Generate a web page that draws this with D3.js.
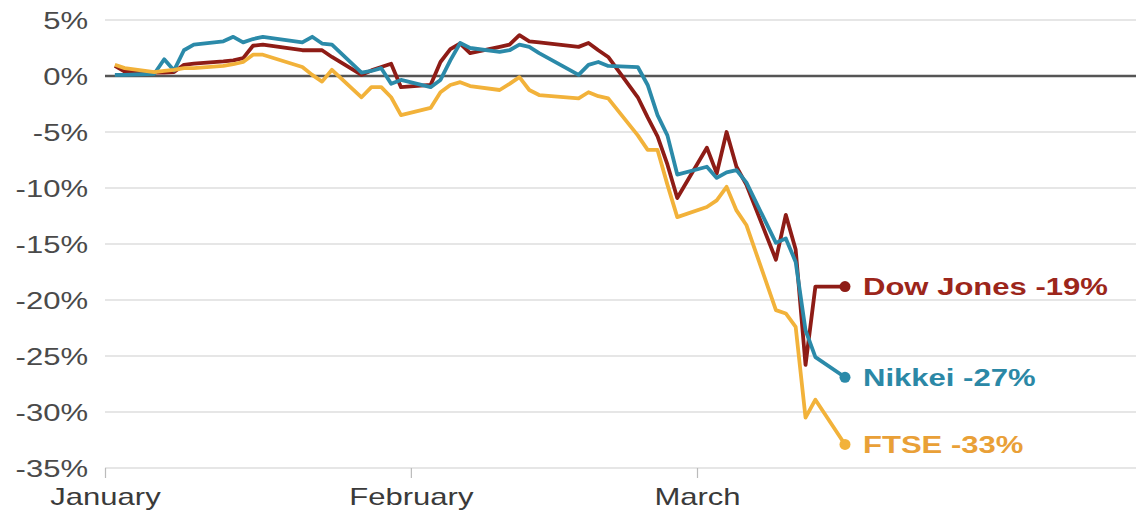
<!DOCTYPE html>
<html>
<head>
<meta charset="utf-8">
<script src="https://cdn.jsdelivr.net/npm/d3@7"></script>
<style>
  body { margin: 0; background: #fff; }
  svg { display: block; font-family: "Liberation Sans", Arial, sans-serif; }
</style>
</head>
<body>
<svg id="chart" width="1136" height="511"></svg>
<script>
// trading days, Jan 2 - Mar 16 2020
const dates = [
  "2020-01-02","2020-01-03","2020-01-06","2020-01-07","2020-01-08","2020-01-09","2020-01-10",
  "2020-01-13","2020-01-14","2020-01-15","2020-01-16","2020-01-17",
  "2020-01-21","2020-01-22","2020-01-23","2020-01-24",
  "2020-01-27","2020-01-28","2020-01-29","2020-01-30","2020-01-31",
  "2020-02-03","2020-02-04","2020-02-05","2020-02-06","2020-02-07",
  "2020-02-10","2020-02-11","2020-02-12","2020-02-13","2020-02-14",
  "2020-02-18","2020-02-19","2020-02-20","2020-02-21",
  "2020-02-24","2020-02-25","2020-02-26","2020-02-27","2020-02-28",
  "2020-03-02","2020-03-03","2020-03-04","2020-03-05","2020-03-06",
  "2020-03-09","2020-03-10","2020-03-11","2020-03-12","2020-03-13",
  "2020-03-16"
];

// % change since start of year
const dow = [
  0.9, 0.4, 0.3, 0.3, 0.35, 1.0, 1.1,
  1.3, 1.4, 1.6, 2.7, 2.8,
  2.3, 2.3, 2.3, 1.7,
  0.1, 0.5, 0.8, 1.1, -1.0,
  -0.8, 1.25, 2.4, 2.9, 2.05,
  2.6, 2.8, 3.65, 3.1, 3.0,
  2.6, 2.95, 2.3, 1.7,
  -1.9, -3.7, -5.4, -7.9, -10.9,
  -6.4, -8.7, -5.0, -8.1, -9.7,
  -16.4, -12.4, -15.5, -25.8, -18.8,
  -18.8
];
const nikkei = [
  0.1, 0.1, 0.2, 1.5, 0.5, 2.3, 2.8,
  3.1, 3.5, 3.0, 3.3, 3.5,
  3.0, 3.5, 2.9, 2.8,
  0.3, 0.45, 0.7, -0.7, -0.35,
  -1.0, -0.35, 1.4, 2.95, 2.5,
  2.15, 2.3, 2.8, 2.6, 2.05,
  0.1, 1.0, 1.25, 0.9,
  0.8, -0.8, -3.5, -5.3, -8.8,
  -8.1, -9.1, -8.6, -8.4, -9.5,
  -14.9, -14.5, -16.6, -22.7, -25.1,
  -26.9
];
const ftse = [
  1.0, 0.7, 0.35, 0.45, 0.55, 0.7, 0.7,
  0.9, 1.05, 1.25, 1.9, 1.9,
  0.8, 0.1, -0.5, 0.55,
  -1.9, -1.0, -1.0, -1.9, -3.5,
  -2.85, -1.45, -0.8, -0.55, -0.9,
  -1.25, -0.7, -0.1, -1.25, -1.7,
  -2.0, -1.45, -1.8, -2.0,
  -5.3, -6.6, -6.6, -9.7, -12.6,
  -11.7, -11.1, -9.9, -12.0, -13.3,
  -20.9, -21.2, -22.4, -30.5, -28.9,
  -32.9
];

const seriesNames = ["Dow Jones", "Nikkei", "FTSE"];
const seriesLabels = ["Dow Jones -19%", "Nikkei -27%", "FTSE -33%"];
const yTicks = [5, 0, -5, -10, -15, -20, -25, -30, -35];
const monthTicks = ["2020-01-01", "2020-02-01", "2020-03-01"];
const monthLabels = ["January", "February", "March"];

const W = 1136, H = 511;
const mLeft = 105, mTop = 20, mBottom = 468;
const sx = 1.35; // text in the source is drawn wide

const parse = d3.timeParse("%Y-%m-%d");
const svg = d3.select("#chart");

const x = d3.scaleTime()
  .domain([parse("2020-01-01"), parse("2020-03-01")])
  .range([mLeft, 697]);
const y = d3.scaleLinear().domain([5, -35]).range([mTop, mBottom]);

const colors = {
  "Dow Jones": { line: "#8e1c16", text: "#9c261b" },
  "Nikkei": { line: "#2b8aa9", text: "#2b88a6" },
  "FTSE": { line: "#f2b23a", text: "#e9a037" }
};

// grid
svg.append("g")
  .selectAll("line")
  .data(yTicks)
  .join("line")
  .attr("x1", mLeft)
  .attr("x2", W)
  .attr("y1", d => y(d))
  .attr("y2", d => y(d))
  .attr("stroke", d => d === 0 ? "#555" : "#e6e6e6")
  .attr("stroke-width", d => d === 0 ? 2.4 : 2);

// y axis labels
const yAxis = svg.append("g")
  .attr("transform", `translate(${mLeft},0)`)
  .call(d3.axisLeft(y).tickValues(yTicks).tickFormat(d => d + "%").tickSize(0));
yAxis.select(".domain").remove();
yAxis.selectAll("text")
  .attr("x", -17 / sx)
  .attr("dy", "0.36em")
  .attr("transform", `scale(${sx},1)`)
  .attr("fill", "#4a4a4a")
  .style("font-size", "23px");

// x axis
const xAxis = svg.append("g")
  .attr("transform", `translate(0,${mBottom})`)
  .call(d3.axisBottom(x)
    .tickValues(monthTicks.map(parse))
    .tickFormat((d, i) => monthLabels[i])
    .tickSize(10)
    .tickPadding(11));
xAxis.select(".domain").remove();
xAxis.selectAll(".tick line").attr("stroke", "#bbb").attr("stroke-width", 1.2);
xAxis.selectAll(".tick text")
  .attr("fill", "#3a3a3a")
  .style("font-size", "23px")
  .attr("transform", `scale(${sx},1)`);

// lines
const rows = dates.map((d, i) => ({
  date: parse(d),
  "Dow Jones": dow[i],
  "Nikkei": nikkei[i],
  "FTSE": ftse[i]
}));

const line = key => d3.line()
  .x(d => x(d.date))
  .y(d => y(d[key]));

seriesNames.forEach((name, k) => {
  svg.append("path")
    .datum(rows)
    .attr("fill", "none")
    .attr("stroke", colors[name].line)
    .attr("stroke-width", 3.8)
    .attr("stroke-linejoin", "round")
    .attr("d", line(name));

  const last = rows[rows.length - 1];
  svg.append("circle")
    .attr("cx", x(last.date))
    .attr("cy", y(last[name]))
    .attr("r", 5.5)
    .attr("fill", colors[name].line);

  svg.append("text")
    .attr("transform", `translate(${x(last.date) + 18},${y(last[name])}) scale(${sx},1)`)
    .attr("dy", "0.36em")
    .attr("fill", colors[name].text)
    .style("font-size", "23px")
    .style("font-weight", "bold")
    .text(seriesLabels[k]);
});
</script>
</body>
</html>
